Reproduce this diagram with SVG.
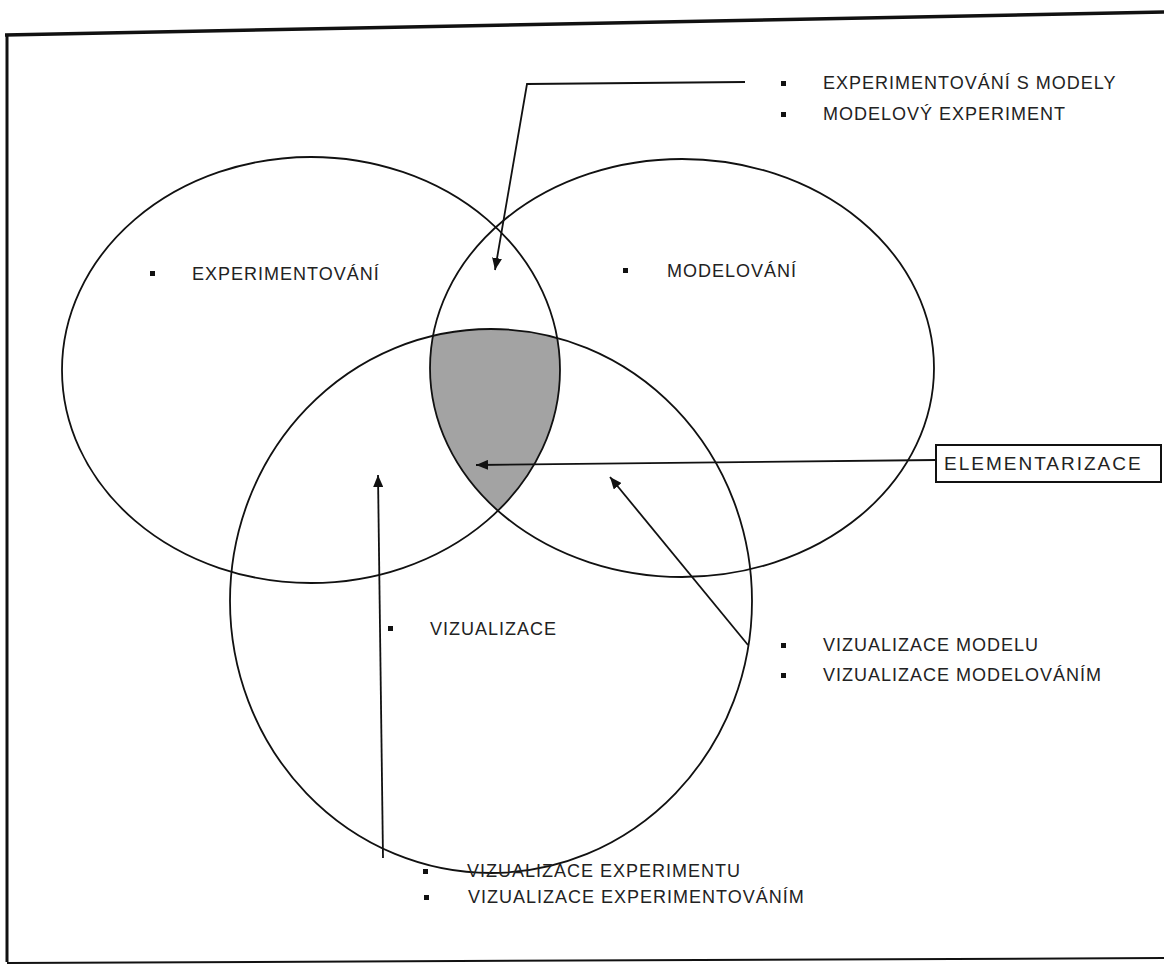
<svg xmlns="http://www.w3.org/2000/svg" width="1164" height="969" viewBox="0 0 1164 969">
<style>
.set{fill:none;stroke:#111;stroke-width:1.8}
.lbl{font-family:"Liberation Sans",Arial,sans-serif;font-size:18px;letter-spacing:1px;fill:#222}
.bul{fill:#111}
.con{fill:none;stroke:#111;stroke-width:1.8}
.frame{stroke:#111;fill:none}
</style>
<defs>
<marker id="ah" viewBox="0 0 12 10" refX="12" refY="5" markerWidth="12" markerHeight="10" markerUnits="userSpaceOnUse" orient="auto">
<path d="M0,0 L12,5 L0,10 Z" fill="#111"/>
</marker>
<clipPath id="c2"><ellipse cx="682" cy="368" rx="252" ry="209"/></clipPath>
<clipPath id="c3"><ellipse cx="491" cy="601" rx="261" ry="272"/></clipPath>
</defs>
<rect width="1164" height="969" fill="#fff"/>
<g id="frame">
<line class="frame" x1="5" y1="35" x2="1164" y2="12" stroke-width="3.5"/>
<line class="frame" x1="7" y1="34" x2="7" y2="962" stroke-width="3"/>
<line class="frame" x1="7" y1="963" x2="1164" y2="958" stroke-width="2" stroke="#555"/>
</g>
<g id="intersection">
<g clip-path="url(#c2)"><g clip-path="url(#c3)">
<ellipse cx="311" cy="370" rx="249" ry="213" fill="#a3a3a3"/>
</g></g>
</g>
<g id="experimentovani">
<ellipse class="set" cx="311" cy="370" rx="249" ry="213"/>
<rect class="bul" x="150" y="271" width="5" height="5"/>
<text class="lbl" x="192" y="280">EXPERIMENTOVÁNÍ</text>
</g>
<g id="modelovani">
<ellipse class="set" cx="682" cy="368" rx="252" ry="209"/>
<rect class="bul" x="623" y="268" width="5" height="5"/>
<text class="lbl" x="667" y="277">MODELOVÁNÍ</text>
</g>
<g id="vizualizace">
<ellipse class="set" cx="491" cy="601" rx="261" ry="272"/>
<rect class="bul" x="388" y="626" width="5" height="5"/>
<text class="lbl" x="430" y="635">VIZUALIZACE</text>
</g>
<g id="label-experimentovani-s-modely">
<rect class="bul" x="781" y="81" width="5" height="5"/>
<text class="lbl" x="823" y="89">EXPERIMENTOVÁNÍ S MODELY</text>
<rect class="bul" x="781" y="112" width="5" height="5"/>
<text class="lbl" x="823" y="120">MODELOVÝ EXPERIMENT</text>
</g>
<g id="elementarizace">
<rect x="936" y="445" width="225" height="37" fill="#fff" stroke="#111" stroke-width="2"/>
<text class="lbl" x="944" y="470" style="font-size:19px;letter-spacing:2px">ELEMENTARIZACE</text>
</g>
<g id="label-vizualizace-modelu">
<rect class="bul" x="781" y="643" width="5" height="5"/>
<text class="lbl" x="823" y="651">VIZUALIZACE MODELU</text>
<rect class="bul" x="781" y="673" width="5" height="5"/>
<text class="lbl" x="823" y="681">VIZUALIZACE MODELOVÁNÍM</text>
</g>
<g id="label-vizualizace-experimentu">
<rect class="bul" x="423" y="869" width="5" height="5"/>
<text class="lbl" x="467" y="877">VIZUALIZACE EXPERIMENTU</text>
<rect class="bul" x="424" y="895" width="5" height="5"/>
<text class="lbl" x="468" y="903">VIZUALIZACE EXPERIMENTOVÁNÍM</text>
</g>
<g id="connectors">
<polyline class="con" points="745,82 527,84 495,270" marker-end="url(#ah)"/>
<line class="con" x1="936" y1="460" x2="476" y2="465" marker-end="url(#ah)"/>
<line class="con" x1="383" y1="858" x2="378" y2="475" marker-end="url(#ah)"/>
<line class="con" x1="748" y1="645" x2="610" y2="477" marker-end="url(#ah)"/>
</g>
</svg>
